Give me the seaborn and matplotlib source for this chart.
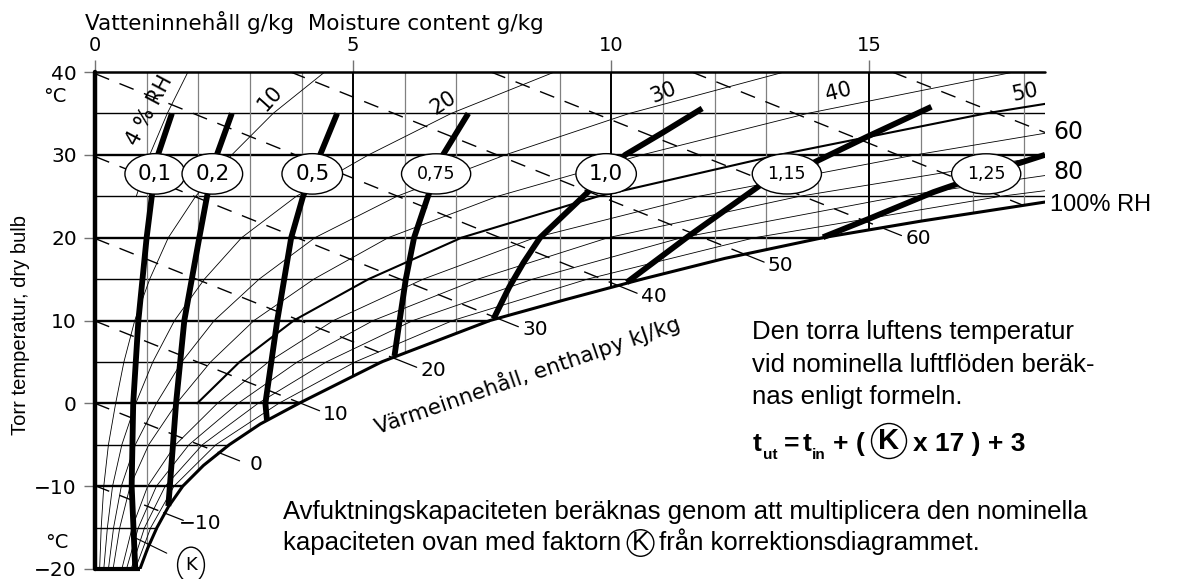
import numpy as np
import matplotlib
matplotlib.use("Agg")
import matplotlib.pyplot as plt
import seaborn as sns

# Mättnadskurvan 100 % RH (temperatur °C -> vatteninnehåll g/kg), avläst
sat_t = [-20, -17.5, -15, -12.5, -10, -7.5, -5, -2.5, 0, 2.5, 5, 7.5, 10, 12.5, 15, 17.5, 20, 22, 24.3]
sat_x = [0.87, 1.02, 1.2, 1.42, 1.7, 2.1, 2.6, 3.2, 3.95, 4.75, 5.55, 6.6, 7.65, 9.1, 10.6, 12.2, 14.1, 16.0, 18.4]

# RH-kurvor, vatteninnehåll g/kg vid temperaturerna rh_t
rh_t = [-20, -15, -10, -5, 0, 5, 10, 15, 20, 25, 30, 35, 40]
rh10 = [0.09, 0.12, 0.17, 0.26, 0.40, 0.56, 0.77, 1.06, 1.42, 1.95, 2.65, 3.45, 4.45]
rh20 = [0.17, 0.24, 0.34, 0.52, 0.79, 1.12, 1.54, 2.12, 2.84, 3.9, 5.3, 6.9, 8.9]
rh30 = [0.26, 0.36, 0.51, 0.78, 1.19, 1.68, 2.31, 3.18, 4.26, 5.85, 7.95, 10.35, 13.35]
rh40 = [0.35, 0.48, 0.68, 1.04, 1.58, 2.24, 3.08, 4.24, 5.68, 7.8, 10.6, 13.8, 17.8]
rh50 = [0.44, 0.6, 0.85, 1.3, 1.98, 2.8, 3.85, 5.3, 7.1, 9.75, 13.25, 17.25, 22.25]
rh60 = [0.52, 0.72, 1.02, 1.56, 2.37, 3.36, 4.62, 6.36, 8.52, 11.7, 15.9, 20.7, 26.7]
rh70 = [0.61, 0.84, 1.19, 1.82, 2.77, 3.92, 5.39, 7.42, 9.94, 13.65, 18.55, 24.15, 31.15]
rh80 = [0.70, 0.96, 1.36, 2.08, 3.16, 4.48, 6.16, 8.48, 11.36, 15.6, 21.2, 27.6, 35.6]
rh90 = [0.78, 1.08, 1.53, 2.34, 3.56, 5.04, 6.93, 9.54, 12.78, 17.55, 23.85, 31.05, 40.05]
rh_levels = [10, 20, 30, 40, 50, 60, 70, 80, 90]
rh04_t = [25, 30, 35, 40]
rh04_x = [0.8, 1.06, 1.4, 1.8]

# Entalpilinjer kJ/kg: start- och slutpunkt (g/kg, °C)
h_values = [-10, 0, 10, 20, 30, 40, 50, 60, 70, 80]
h_x0 = [0, 0, 0, 0, 0, 0, 3.79, 7.67, 11.56, 15.44]
h_t0 = [-9.94, 0, 9.94, 19.9, 29.8, 39.8, 40, 40, 40, 40]
h_x1 = [1.33, 2.42, 3.97, 5.85, 7.82, 10.12, 12.58, 15.24, 17.98, 18.4]
h_t1 = [-13.2, -6.0, 0.05, 5.3, 10.2, 14.25, 18.0, 21.2, 23.9, 32.7]
h_labels = ["\u221210", "0", "10", "20", "30", "40", "50", "60", "", ""]

# Korrektionsfaktor K
k_labels = ["0,1", "0,2", "0,5", "0,75", "1,0", "1,15", "1,25"]
k01_t = [-20, -10, 0, 10, 20, 25, 30, 35]
k01_x = [0.78, 0.71, 0.74, 0.84, 1.0, 1.1, 1.22, 1.49]
k02_t = [-12.4, -10, 0, 10, 20, 25, 30, 35]
k02_x = [1.42, 1.45, 1.57, 1.73, 2.02, 2.17, 2.36, 2.65]
k05_t = [-2, 0, 10, 20, 25, 30, 35]
k05_x = [3.33, 3.3, 3.53, 3.8, 4.03, 4.36, 4.69]
k075_t = [5.7, 10, 15, 20, 25, 30, 35]
k075_x = [5.8, 5.9, 6.02, 6.18, 6.45, 6.74, 7.23]
k10_t = [10.2, 14, 17, 20, 25.4, 30, 32.7, 35.6]
k10_x = [7.72, 8.02, 8.3, 8.62, 9.53, 10.27, 11.0, 11.76]
k115_t = [14.6, 20.2, 26.4, 29, 32.2, 35.8]
k115_x = [10.3, 11.5, 12.9, 13.9, 14.96, 16.2]
k125_t = [20.05, 22.2, 25.5, 28, 30]
k125_x = [14.1, 14.96, 16.24, 17.4, 18.4]

sns.set_theme(style="white")
plt.rcParams["font.family"] = ["DejaVu Sans"]
plt.rcParams["text.color"] = "black"
plt.rcParams["xtick.color"] = "black"
plt.rcParams["ytick.color"] = "black"

W, H = 1180, 579
fig = plt.figure(figsize=(11.8, 5.79), dpi=100)
ax = fig.add_axes([95 / W, 1 - 569 / H, 950 / W, 497 / H])
ax.set_xlim(0, 18.4)
ax.set_ylim(-20, 40)
for s in ax.spines.values():
    s.set_visible(False)


def px(x, y):
    # pixel i bilden -> datakoordinater
    return (x - 95) / 950 * 18.4, 40 - (y - 72) / 497 * 60


def ft(x, y, s, **kw):
    return fig.text(x / W, 1 - y / H, s, **kw)


# axlar
ax.xaxis.tick_top()
ax.set_xticks([0, 5, 10, 15])
ax.set_xticklabels(["0", "5", "10", "15"])
ax.set_yticks(range(-20, 41, 10))
ax.set_yticklabels([str(v).replace("-", "\u2212") for v in range(-20, 41, 10)])
ax.tick_params(axis="x", top=True, bottom=False, length=9, width=1.0, color="0.45", pad=3, labelsize=14)
ax.tick_params(axis="y", left=True, length=8, width=1.0, color="0.45", pad=5, labelsize=14.5)
ax.set_xlabel("")
ax.set_ylabel("")

# rutnät
for t in range(-15, 40, 5):
    xe = np.interp(t, sat_t, sat_x)
    ax.plot([0, xe], [t, t], color="black", lw=1.7 if t % 10 == 0 else 1.0, zorder=1, solid_capstyle="butt")
for k in range(1, 19):
    te = np.interp(k, sat_x, sat_t)
    major = k % 5 == 0
    ax.plot([k, k], [te, 40], color="black" if major else "0.5", lw=1.4 if major else 0.9, zorder=1)
ax.plot([0, 18.4], [40, 40], color="black", lw=1.8, clip_on=False, zorder=3)
ax.plot([0, sat_x[0]], [-20, -20], color="black", lw=3, clip_on=False, zorder=3, solid_capstyle="butt")
ax.plot([0, 0], [-20, 40], color="black", lw=3.2, clip_on=False, zorder=3)

# RH-kurvor
for lev, vals in zip(rh_levels, [rh10, rh20, rh30, rh40, rh50, rh60, rh70, rh80, rh90]):
    if lev == 50:
        sns.lineplot(x=vals[4:], y=rh_t[4:], sort=False, estimator=None, color="black", linewidth=1.5, ax=ax, zorder=2)
    else:
        sns.lineplot(x=vals, y=rh_t, sort=False, estimator=None, color="black", linewidth=0.6, ax=ax, zorder=2)
sns.lineplot(x=rh04_x, y=rh04_t, sort=False, estimator=None, color="black", linewidth=0.6, ax=ax, zorder=2)

# entalpilinjer
for h, x0, t0, x1, t1, lab in zip(h_values, h_x0, h_t0, h_x1, h_t1, h_labels):
    ax.plot([x0, x1], [t0, t1], color="black", lw=1.0, ls=(0, (11, 8)), zorder=2)
    if lab:
        dx, dt = x1 - x0, t1 - t0
        f = 0.38 / dx
        ax.plot([x1, x1 + dx * f], [t1, t1 + dt * f], color="black", lw=0.9, zorder=2, clip_on=False)
        ax.annotate(lab, xy=(x1, t1), xytext=(26, -8), textcoords="offset points",
                    ha="center", va="center", fontsize=14.5, annotation_clip=False)

# mättnadskurva
sns.lineplot(x=sat_x, y=sat_t, sort=False, estimator=None, color="black", linewidth=2.2, ax=ax, zorder=3)

# K-kurvor med bubblor
k_curves = [(k01_x, k01_t), (k02_x, k02_t), (k05_x, k05_t), (k075_x, k075_t),
            (k10_x, k10_t), (k115_x, k115_t), (k125_x, k125_t)]
for lab, (kx, kt) in zip(k_labels, k_curves):
    sns.lineplot(x=kx, y=kt, sort=False, estimator=None, color="black", linewidth=4.2, ax=ax, zorder=4,
                 solid_capstyle="butt")
    tb = 27.7
    xb = np.interp(tb, kt, kx)
    short = len(lab) == 3
    ax.text(xb, tb, lab, ha="center", va="center", fontsize=15.5 if short else 12.5, zorder=6,
            bbox=dict(boxstyle="ellipse,pad=%s" % (0.2 if short else 0.3), fc="white", ec="black", lw=1.0))

# K-markering nere till vänster
ax.annotate("K", xy=(0.8, -16.3), xytext=px(191, 565), ha="center", va="center", fontsize=13,
            arrowprops=dict(arrowstyle="-", lw=0.8, color="black", shrinkA=9, shrinkB=0),
            bbox=dict(boxstyle="ellipse,pad=0.2", fc="white", ec="black", lw=1.0),
            annotation_clip=False, zorder=6)

# RH-etiketter
for lab, (lx, ly), rot in [("4 % RH", (150, 111), 62), ("10", (270, 98), 48), ("20", (443, 103), 33),
                           ("30", (663, 92), 22), ("40", (838, 92), 14), ("50", (1025, 92), 12)]:
    ax.text(*px(lx, ly), lab, rotation=rot, ha="center", va="center", fontsize=15, zorder=6,
            rotation_mode="anchor")
ft(1053, 132, "60", fontsize=17, va="center", ha="left")
ft(1053, 172, "80", fontsize=17, va="center", ha="left")
ft(1050, 205, "100% RH", fontsize=17, va="center", ha="left", family="Liberation Sans")

# axeltexter
ft(85, 22, "Vatteninnehåll g/kg  Moisture content g/kg", fontsize=15.5, va="center", ha="left")
ft(55, 97, "°C", fontsize=14, va="center", ha="center")
ft(57, 543, "°C", fontsize=14, va="center", ha="center")
ft(21, 325, "Torr temperatur, dry bulb", rotation=90, fontsize=14.5, va="center", ha="center",
   family="Liberation Sans")
ax.text(*px(527, 375), "Värmeinnehåll, enthalpy kJ/kg", rotation=19, ha="center", va="center",
        fontsize=15.5, zorder=6)

# förklarande text
txt = dict(family="Liberation Sans", fontsize=18.5, ha="left", va="baseline")
ft(752, 339, "Den torra luftens temperatur", **txt)
ft(752, 372, "vid nominella luftflöden beräk-", **txt)
ft(752, 404, "nas enligt formeln.", **txt)

bold = dict(family="Liberation Sans", fontweight="bold", ha="left", va="baseline")
ft(753, 451, "t", fontsize=19, **bold)
ft(763, 459, "ut", fontsize=11, **bold)
ft(784, 451, "=", fontsize=19, **bold)
ft(803, 451, "t", fontsize=19, **bold)
ft(812, 459, "in", fontsize=11, **bold)
ft(833, 451, "+ (", fontsize=19, **bold)
ft(889, 441, "K", fontsize=21, family="Liberation Sans", fontweight="bold", ha="center", va="center",
   bbox=dict(boxstyle="circle,pad=0.12", fc="white", ec="black", lw=1.0))
ft(913, 451, "x 17 ) + 3", fontsize=19, **bold)

ft(283, 519, "Avfuktningskapaciteten beräknas genom att multiplicera den nominella", **txt)
t1 = ft(283, 550, "kapaciteten ovan med faktorn", **txt)
kc = ax.annotate("K", xy=(1, 0), xycoords=t1, xytext=(14, 0), textcoords="offset points",
                 ha="center", va="bottom", family="Liberation Sans", fontsize=18.5,
                 bbox=dict(boxstyle="circle,pad=0.05", fc="white", ec="black", lw=1.0))
ax.annotate("från korrektionsdiagrammet.", xy=(1, 0), xycoords=kc, xytext=(7, 0), textcoords="offset points",
            ha="left", va="bottom", family="Liberation Sans", fontsize=18.5)

fig.savefig("out.png", dpi=100)
